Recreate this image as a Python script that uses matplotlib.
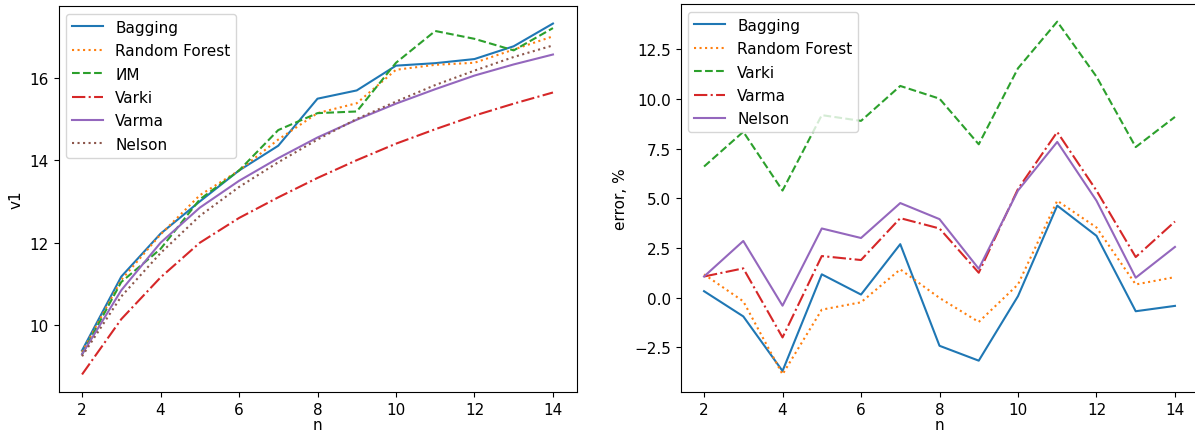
import matplotlib
matplotlib.use("Agg")
import matplotlib.pyplot as plt

n = list(range(2, 15))

# left panel: v1 values
v1_bagging = [9.39, 11.18, 12.22, 13.0, 13.75, 14.35, 15.49, 15.69, 16.29, 16.35, 16.45, 16.76, 17.31]
v1_rf = [9.35, 11.1, 12.2, 13.15, 13.75, 14.5, 15.14, 15.38, 16.19, 16.31, 16.36, 16.68, 17.0]
v1_im = [9.3, 11.05, 11.85, 13.05, 13.75, 14.73, 15.14, 15.18, 16.36, 17.13, 16.94, 16.66, 17.2]
v1_varki = [8.81, 10.15, 11.16, 12.0, 12.6, 13.1, 13.57, 14.0, 14.4, 14.75, 15.08, 15.37, 15.64]
v1_varma = [9.3, 10.85, 12.0, 12.85, 13.5, 14.05, 14.55, 14.98, 15.37, 15.72, 16.05, 16.32, 16.56]
v1_nelson = [9.25, 10.7, 11.75, 12.65, 13.35, 13.95, 14.5, 15.0, 15.42, 15.82, 16.17, 16.5, 16.78]

# right panel: error, %
err_bagging = [0.32, -0.95, -3.7, 1.17, 0.15, 2.69, -2.43, -3.18, 0.07, 4.63, 3.11, -0.69, -0.42]
err_rf = [1.17, -0.19, -3.87, -0.61, -0.24, 1.42, -0.02, -1.23, 0.66, 4.88, 3.53, 0.66, 1.03]
err_varki = [6.6, 8.35, 5.39, 9.19, 8.9, 10.66, 10.02, 7.72, 11.55, 13.9, 11.13, 7.58, 9.1]
err_varma = [1.06, 1.47, -2.01, 2.09, 1.89, 4.0, 3.48, 1.25, 5.47, 8.34, 5.39, 2.04, 3.83]
err_nelson = [1.06, 2.85, -0.41, 3.48, 3.0, 4.76, 3.95, 1.45, 5.39, 7.84, 4.88, 1.0, 2.55]

plt.rcParams["font.size"] = 11

fig = plt.figure(figsize=(11.95, 4.35), dpi=100)
ax1 = fig.add_axes([58.5 / 1195, 42 / 435, 518 / 1195, 386 / 435])
ax2 = fig.add_axes([680.5 / 1195, 42 / 435, 518 / 1195, 388 / 435])

ax1.plot(n, v1_bagging, "-", color="C0", label="Bagging")
ax1.plot(n, v1_rf, ":", color="C1", label="Random Forest")
ax1.plot(n, v1_im, "--", color="C2", label="ИМ")
ax1.plot(n, v1_varki, "-.", color="C3", label="Varki")
ax1.plot(n, v1_varma, "-", color="C4", label="Varma")
ax1.plot(n, v1_nelson, ":", color="C5", label="Nelson")
ax1.set_xlabel("n", labelpad=0)
ax1.set_ylabel("v1")
ax1.set_xticks(range(2, 15, 2))
ax1.legend(loc="upper left", labelspacing=0.55)

ax2.plot(n, err_bagging, "-", color="C0", label="Bagging")
ax2.plot(n, err_rf, ":", color="C1", label="Random Forest")
ax2.plot(n, err_varki, "--", color="C2", label="Varki")
ax2.plot(n, err_varma, "-.", color="C3", label="Varma")
ax2.plot(n, err_nelson, "-", color="C4", label="Nelson")
ax2.set_xlabel("n", labelpad=0)
ax2.set_ylabel("error, %")
ax2.set_xticks(range(2, 15, 2))
ax2.legend(loc="upper left", labelspacing=0.55)

plt.savefig("out.png")
